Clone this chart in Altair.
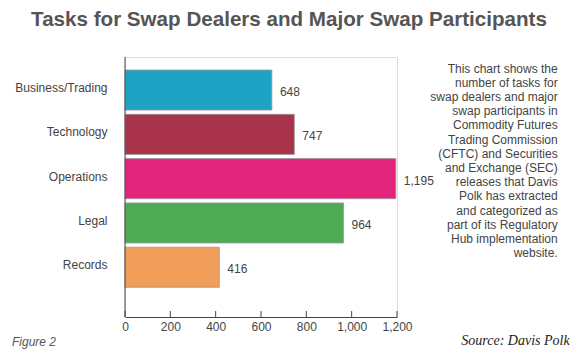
import altair as alt
import pandas as pd

categories = ["Business/Trading", "Technology", "Operations", "Legal", "Records"]
values = [648, 747, 1195, 964, 416]
colors = ["#1FA3C4", "#A8334A", "#E2247A", "#4EAA55", "#F09E5A"]
tick_values = [0, 200, 400, 600, 800, 1000, 1200]

title_text = "Tasks for Swap Dealers and Major Swap Participants"
note_lines = [
    "This chart shows the",
    "number of tasks for",
    "swap dealers and major",
    "swap participants in",
    "Commodity Futures",
    "Trading Commission",
    "(CFTC) and Securities",
    "and Exchange (SEC)",
    "releases that Davis",
    "Polk has extracted",
    "and categorized as",
    "part of its Regulatory",
    "Hub implementation",
    "website.",
]
figure_text = "Figure 2"
source_text = "Source: Davis Polk"

W, H = 272, 260
FONT = "Liberation Sans"

df = pd.DataFrame({"category": categories, "value": values})
ticks_df = pd.DataFrame({"value": tick_values})
one = pd.DataFrame({"k": [0]})

xscale = alt.Scale(domain=[0, 1200], nice=False)
yscale = alt.Scale(domain=categories, range=[13, 230.3], paddingInner=0.095, paddingOuter=0)

x_axis = alt.Axis(values=tick_values, format=",d", ticks=False, grid=False,
                  labelOverlap=False, labelFlush=False,
                  domainColor="#444", domainWidth=1, labelFont=FONT, labelFontSize=12,
                  labelFontWeight="normal", labelColor="#444", labelPadding=4, title=None)
y_axis = alt.Axis(ticks=False, domain=False, grid=False, labelFont=FONT, labelFontSize=12,
                  labelFontWeight="normal", labelColor="#444", labelPadding=18,
                  labelOffset=-2, title=None)

bars = alt.Chart(df).mark_bar(stroke="#999", strokeWidth=0.8).encode(
    x=alt.X("value:Q", scale=xscale, axis=x_axis),
    y=alt.Y("category:N", scale=yscale, sort=None, axis=y_axis),
    color=alt.Color("category:N", scale=alt.Scale(domain=categories, range=colors), legend=None),
)

labels = alt.Chart(df).mark_text(align="left", baseline="middle", dx=8, dy=2,
                                 font=FONT, fontSize=12, fontWeight="normal", color="#444").encode(
    x=alt.X("value:Q", scale=xscale, axis=x_axis),
    y=alt.Y("category:N", scale=yscale, sort=None, axis=y_axis),
    text=alt.Text("value:Q", format=","),
)

tick_marks = alt.Chart(ticks_df).mark_rule(color="#444", strokeWidth=1).encode(
    x=alt.X("value:Q", scale=xscale, axis=x_axis),
    y=alt.value(H - 6),
    y2=alt.value(H),
)

y_line = alt.Chart(one).mark_rule(color="#444", strokeWidth=1).encode(
    x=alt.value(0), y=alt.value(0), y2=alt.value(H),
)

title = alt.Chart(one).mark_text(align="center", baseline="alphabetic", font=FONT,
                                 fontSize=20.6, fontWeight="bold", color="#555").encode(
    x=alt.value(164), y=alt.value(-31), text=alt.value(title_text),
)

note = alt.Chart(one).mark_text(align="right", baseline="alphabetic", font=FONT,
                                fontSize=12, fontWeight="normal", lineHeight=14.2,
                                color="#444").encode(
    x=alt.value(432.7), y=alt.value(15.7), text=alt.value(note_lines),
)

figure = alt.Chart(one).mark_text(align="left", baseline="middle", font=FONT,
                                  fontSize=12, fontStyle="italic", fontWeight="normal",
                                  color="#555").encode(
    x=alt.value(-113), y=alt.value(285), text=alt.value(figure_text),
)

source = alt.Chart(one).mark_text(align="right", baseline="middle", font="Liberation Serif",
                                  fontSize=14, fontStyle="italic", fontWeight="normal",
                                  color="#222").encode(
    x=alt.value(444.7), y=alt.value(284), text=alt.value(source_text),
)

chart = alt.layer(bars, labels, tick_marks, y_line, title, note, figure, source).properties(
    width=W, height=H,
    autosize=alt.AutoSizeParams(type="none"),
    padding={"left": 117, "top": 49, "right": 175, "bottom": 33},
).configure_view(stroke=None).configure(background="white")

chart.save("out.html", embed_options={"renderer": "svg", "actions": False})
